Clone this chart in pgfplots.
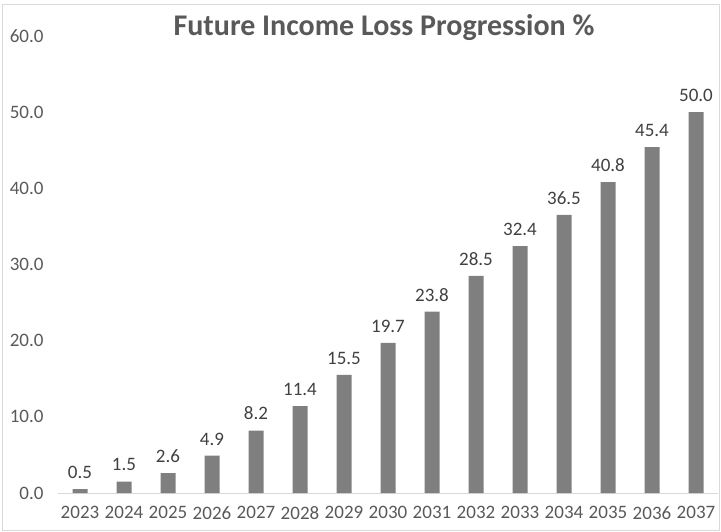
\documentclass[border=0pt]{standalone}
\usepackage{pgfplots}
\pgfplotsset{compat=1.18}
\usepackage{fontspec}
\setmainfont{Carlito}
\definecolor{barGray}{HTML}{7F7F7F}
\definecolor{tickGray}{HTML}{595959}
\definecolor{labGray}{HTML}{404040}
\definecolor{lineGray}{HTML}{D9D9D9}
\begin{document}
\begin{tikzpicture}
\useasboundingbox (0,0) rectangle (721bp,532bp);
\draw[lineGray, line width=0.8bp] (2bp,2bp) rectangle (719bp,528bp);
\node[font=\fontsize{30bp}{34bp}\selectfont\bfseries, text=tickGray] at (384bp,504bp) {Future Income Loss Progression \%};
\begin{axis}[
  at={(58bp,39bp)}, anchor=south west,
  scale only axis, width=660bp, height=457bp,
  xmin=-0.5, xmax=14.5, ymin=0, ymax=60,
  ybar, bar width=15bp,
  xtick=data,
  xticklabels={2023,2024,2025,2026,2027,2028,2029,2030,2031,2032,2033,2034,2035,2036,2037},
  ytick={0,10,20,30,40,50,60},
  yticklabel style={/pgf/number format/fixed, /pgf/number format/fixed zerofill, /pgf/number format/precision=1, xshift=-11bp},
  /pgf/number format/assume math mode=true,
  ticklabel style={font=\fontsize{19bp}{21bp}\selectfont, text=tickGray},
  major tick length=0pt,
  separate axis lines,
  axis x line*=bottom, axis y line*=left,
  x axis line style={draw=lineGray, line width=1bp, -},
  y axis line style={draw=none},
  xticklabel style={yshift=-10bp},
  nodes near coords,
  nodes near coords style={font=\fontsize{19bp}{21bp}\selectfont, text=labGray, /pgf/number format/fixed, /pgf/number format/fixed zerofill, /pgf/number format/precision=1, /pgf/number format/assume math mode=true, yshift=7bp},
  clip=false,
]
\addplot[fill=barGray, draw=none] coordinates {
(0,0.5) (1,1.5) (2,2.6) (3,4.9) (4,8.2) (5,11.4) (6,15.5) (7,19.7) (8,23.8) (9,28.5) (10,32.4) (11,36.5) (12,40.8) (13,45.4) (14,50.0)
};
\end{axis}
\end{tikzpicture}
\end{document}
